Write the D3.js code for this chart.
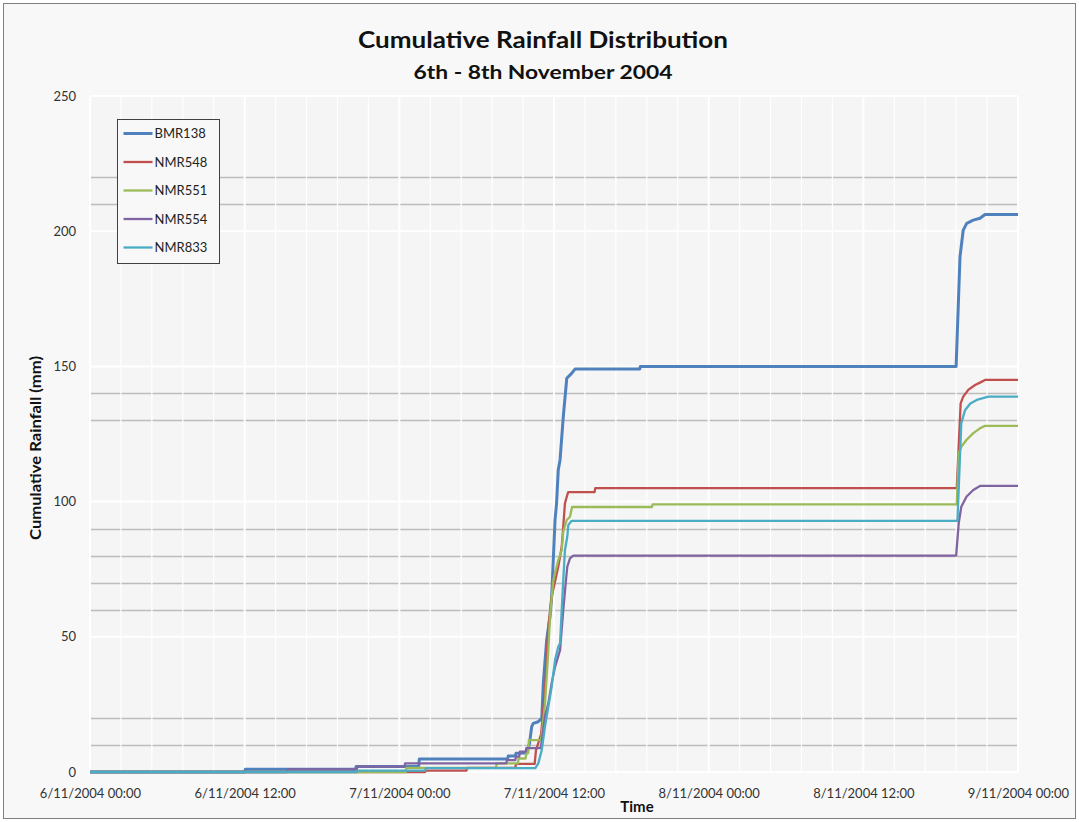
<!DOCTYPE html>
<html>
<head>
<meta charset="utf-8">
<script src="https://cdn.jsdelivr.net/npm/d3@7"></script>
<style>
  html, body { margin: 0; padding: 0; background: #ffffff; }
  svg { display: block; }
  text { font-family: Lato, "Open Sans", "Liberation Sans", sans-serif; }
</style>
</head>
<body>
<script>
// Rainfall gauge records, 6-8 November 2004: [hours since 6/11/2004 00:00, cumulative mm]
const seriesNames = ["BMR138", "NMR548", "NMR551", "NMR554", "NMR833"];
const seriesColors = ["#4F81BD", "#C0504D", "#9BBB59", "#8064A2", "#4BACC6"];

const BMR138 = [
  [0,0],[12,0],[12.05,1],[20.6,1],[20.65,2],[25.5,2],[25.55,4.8],[32.4,4.8],[32.45,5.9],
  [33.0,5.9],[33.05,6.9],[33.9,7],[34.1,10.6],[34.27,16.8],[34.39,18],[34.78,18.6],
  [35.05,19.8],[35.17,32.8],[35.43,48.8],[35.69,57.4],[35.82,64.8],[36.08,93.2],[36.2,99.4],
  [36.33,111.7],[36.47,115.4],[36.72,131.4],[36.99,145.6],[37.37,147.4],[37.63,149],
  [42.65,149],[42.7,150],[67.2,150],[67.5,190.6],[67.75,200.4],[68.02,202.9],[68.53,204.1],
  [69.05,204.8],[69.44,206.2],[72,206.2]
];
const NMR548 = [
  [0,0],[26,0],[26.05,0.5],[29.2,0.5],[29.25,1.5],[33,1.5],[33.05,3],[34.5,3],[34.6,8],
  [35.0,14],[35.3,30],[35.56,53.7],[35.82,64.8],[36.33,75.9],[36.6,83.3],[36.85,99.4],
  [36.99,101.8],[37.1,103.5],[39.15,103.5],[39.2,105],[67.25,105],[67.55,136.3],
  [67.75,138.8],[68.14,141.3],[68.67,143.1],[69.05,144],[69.44,145],[72,145]
];
const NMR551 = [
  [0,0],[24.5,0],[24.55,1.5],[31.5,1.5],[31.55,3.2],[33.2,3.2],[33.25,5],[33.8,5],[33.85,7],
  [34.0,7],[34.05,11.8],[35.0,11.8],[35.3,25],[35.56,45.1],[35.69,57.4],[35.95,71],
  [36.33,78.4],[36.6,82.1],[36.72,88.9],[36.99,93.2],[37.24,94.4],[37.4,98],[43.6,98],
  [43.65,99],[67.25,99],[67.4,117.9],[67.6,120.3],[68.0,122.8],[68.53,125.3],
  [69.05,127.1],[69.44,128],[72,128]
];
const NMR554 = [
  [0,0],[15.3,0],[15.35,1],[20.7,1],[20.75,2],[24.4,2],[24.45,3.2],[32.3,3.2],[32.35,4.4],
  [33.0,4.4],[33.05,5.7],[33.3,5.7],[33.35,7.5],[33.8,7.5],[33.85,8.8],[34.96,8.8],
  [35.07,12],[35.18,16],[35.3,20.5],[35.56,25.4],[35.82,32.8],[36.08,38.9],[36.47,45.1],
  [36.72,60],[36.93,71],[37.03,75.9],[37.24,79],[37.5,80],[67.2,80],[67.4,92],
  [67.6,98.1],[68.0,101.8],[68.53,104.3],[69.05,105.8],[72,105.8]
];
const NMR833 = [
  [0,0],[20.7,0],[20.75,0.5],[26,0.5],[26.05,1.4],[34.55,1.4],[34.78,3.2],[35.05,8.1],
  [35.3,16.8],[35.56,24.1],[35.82,31.5],[36.08,41.4],[36.33,46.3],[36.47,47.6],
  [36.6,59.9],[36.72,71],[36.85,82.1],[37.03,87],[37.11,91.3],[37.37,92.9],[67.3,92.9],
  [67.6,129],[67.9,133.9],[68.3,136.3],[68.8,137.6],[69.7,138.8],[72,138.8]
];
const seriesData = [BMR138, NMR548, NMR551, NMR554, NMR833];
const seriesWidths = [3, 2.3, 2.3, 2.3, 2.3];

const yTicks = [0, 50, 100, 150, 200, 250];
// Levels carrying the grey rules across the plot
const greyLevels = [10, 20, 60, 70, 80, 90, 130, 140, 210, 220];

const W = 1079, H = 822;
const startDate = new Date(2004, 10, 6, 0, 0);
const endDate = new Date(2004, 10, 9, 0, 0);
const toDate = h => new Date(startDate.getTime() + h * 3600e3);

const svg = d3.select("body").append("svg").attr("width", W).attr("height", H);

// chart frame
svg.append("rect").attr("x", 3.5).attr("y", 3.5).attr("width", W - 7).attr("height", H - 7)
  .attr("fill", "#f8f8f8").attr("stroke", "#7f7f7f").attr("stroke-width", 1);

const plot = { left: 90, right: 1018, top: 96, bottom: 772 };
const x = d3.scaleTime().domain([startDate, endDate]).range([plot.left, plot.right]);
const y = d3.scaleLinear().domain([0, 250]).range([plot.bottom, plot.top]);

svg.append("rect").attr("x", plot.left).attr("y", plot.top)
  .attr("width", plot.right - plot.left).attr("height", plot.bottom - plot.top)
  .attr("fill", "#f5f5f5");

// grey horizontal rules
svg.append("g").selectAll("line").data(greyLevels).join("line")
  .attr("x1", plot.left).attr("x2", plot.right)
  .attr("y1", d => Math.round(y(d)) + 0.5).attr("y2", d => Math.round(y(d)) + 0.5)
  .attr("stroke", "#bdbdbd").attr("stroke-width", 1.3);

// white gridlines: every 2.4 h vertically, major every 12 h and every 50 mm
const minorHours = d3.range(0, 72.001, 2.4);
svg.append("g").selectAll("line").data(minorHours).join("line")
  .attr("x1", d => x(toDate(d))).attr("x2", d => x(toDate(d)))
  .attr("y1", plot.top).attr("y2", plot.bottom)
  .attr("stroke", "#ffffff").attr("stroke-width", d => (Math.abs(d / 12 - Math.round(d / 12)) < 1e-6) ? 2 : 1.2);
svg.append("g").selectAll("line").data(yTicks).join("line")
  .attr("x1", plot.left).attr("x2", plot.right)
  .attr("y1", d => y(d)).attr("y2", d => y(d))
  .attr("stroke", "#ffffff").attr("stroke-width", 2);

// axes
const fmt = d3.timeFormat("%-d/%m/%Y %H:%M");
const xAxis = d3.axisBottom(x).ticks(d3.timeHour.every(12)).tickFormat(fmt).tickSize(0).tickPadding(17);
const gx = svg.append("g").attr("transform", `translate(0,${plot.bottom})`).call(xAxis);
gx.select(".domain").remove();
gx.selectAll("text").attr("font-size", 13).attr("fill", "#333");

const yAxis = d3.axisLeft(y).tickValues(yTicks).tickSize(0).tickPadding(14);
const gy = svg.append("g").attr("transform", `translate(${plot.left},0)`).call(yAxis);
gy.select(".domain").remove();
gy.selectAll("text").attr("font-size", 13).attr("fill", "#333");

// series lines
const line = d3.line().x(d => x(toDate(d[0]))).y(d => y(d[1]));
svg.append("g").selectAll("path").data(seriesData).join("path")
  .attr("d", line).attr("fill", "none")
  .attr("stroke", (d, i) => seriesColors[i])
  .attr("stroke-width", (d, i) => seriesWidths[i])
  .attr("stroke-linejoin", "round");

// titles
svg.append("text").attr("x", 543).attr("y", 48).attr("text-anchor", "middle")
  .attr("font-size", 23).attr("font-weight", "bold").attr("fill", "#111")
  .attr("textLength", 370).attr("lengthAdjust", "spacingAndGlyphs")
  .text("Cumulative Rainfall Distribution");
svg.append("text").attr("x", 543).attr("y", 79).attr("text-anchor", "middle")
  .attr("font-size", 19).attr("font-weight", "bold").attr("fill", "#111")
  .attr("textLength", 259).attr("lengthAdjust", "spacingAndGlyphs")
  .text("6th - 8th November 2004");

svg.append("text").attr("x", 637).attr("y", 812).attr("text-anchor", "middle")
  .attr("font-size", 15).attr("font-weight", "bold").attr("fill", "#111").text("Time");
svg.append("text").attr("transform", "translate(41,448) rotate(-90)").attr("text-anchor", "middle")
  .attr("font-size", 15).attr("font-weight", "bold").attr("fill", "#111")
  .attr("textLength", 184).attr("lengthAdjust", "spacingAndGlyphs")
  .text("Cumulative Rainfall (mm)");

// legend
const lg = svg.append("g").attr("transform", "translate(117.5,119.5)");
lg.append("rect").attr("width", 102).attr("height", 144)
  .attr("fill", "#f8f8f8").attr("stroke", "#404040").attr("stroke-width", 1);
const rows = lg.selectAll("g").data(seriesNames).join("g")
  .attr("transform", (d, i) => `translate(0,${14 + i * 28.5})`);
rows.append("line").attr("x1", 6).attr("x2", 35).attr("y1", 0).attr("y2", 0)
  .attr("stroke", (d, i) => seriesColors[i]).attr("stroke-width", (d, i) => seriesWidths[i]);
rows.append("text").attr("x", 37).attr("y", 4.5).attr("font-size", 13).attr("fill", "#222").text(d => d);
</script>
</body>
</html>
